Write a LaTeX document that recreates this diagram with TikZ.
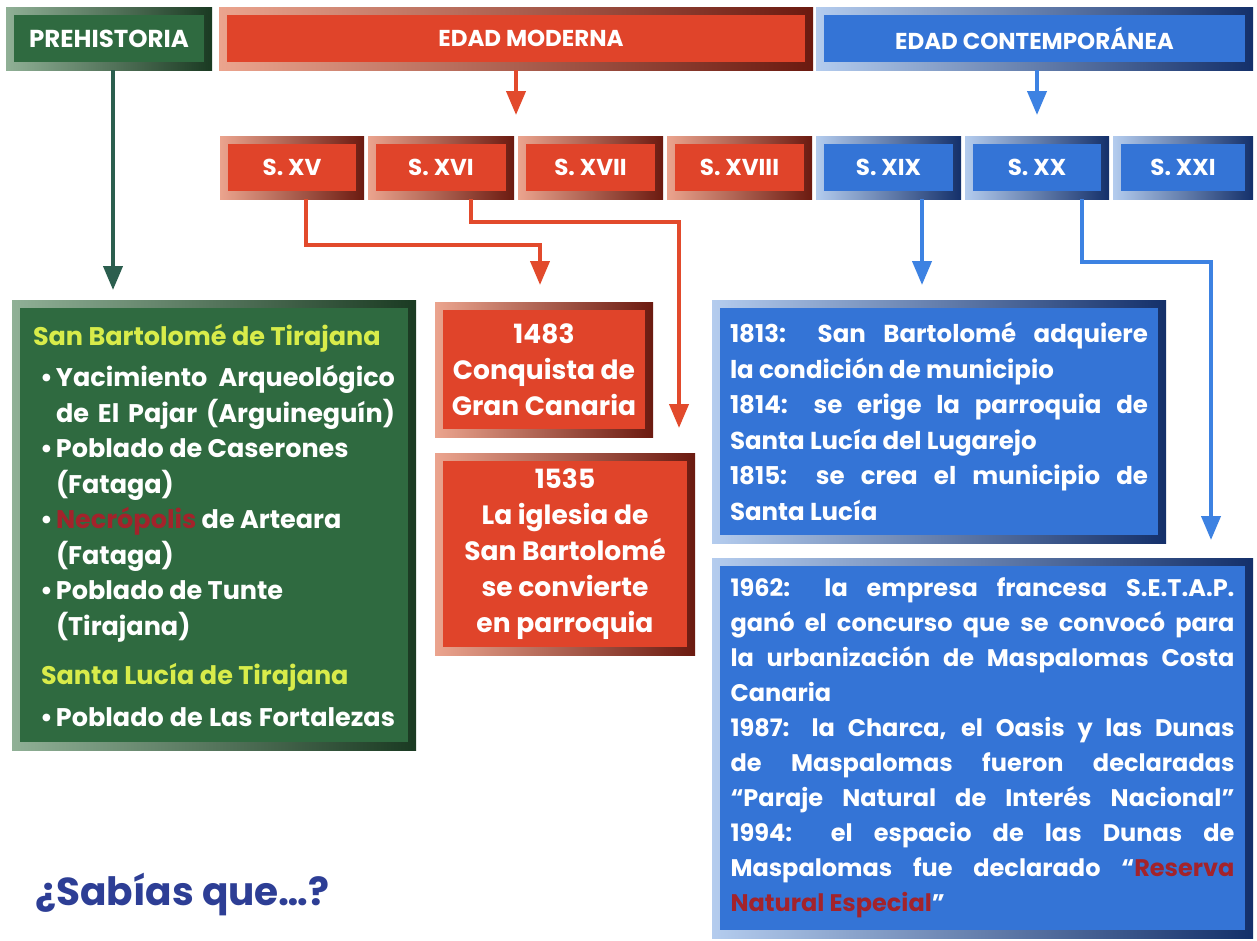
\documentclass[tikz,border=0pt]{standalone}
\usepackage{fontspec}
\setmainfont{Poppins}
\usetikzlibrary{arrows.meta}
\definecolor{redM}{HTML}{E0442A}
\definecolor{redL}{HTML}{EBA48E}
\definecolor{redD}{HTML}{6B1A10}
\definecolor{blueM}{HTML}{3474D6}
\definecolor{blueL}{HTML}{B4CCEE}
\definecolor{blueD}{HTML}{14306A}
\definecolor{grnM}{HTML}{2F6A40}
\definecolor{grnL}{HTML}{90B096}
\definecolor{grnD}{HTML}{1A3A22}
\definecolor{yel}{HTML}{D8EC4A}
\definecolor{necro}{HTML}{A3232B}
\definecolor{sab}{HTML}{2D3E95}
\definecolor{arrR}{HTML}{E24A2C}
\definecolor{arrB}{HTML}{3D82E2}
\definecolor{arrG}{HTML}{2B5E4E}
\newcommand\J[2]{{\spaceskip=0pt\xspaceskip=0pt\makebox[#1][s]{#2}}}
\newcommand\Lf[2]{{\spaceskip=0pt\xspaceskip=0pt\makebox[#1][l]{#2}}}
\newcommand\blt{\makebox[23pt][l]{\hspace{7pt}•}}
\begin{document}
\begin{tikzpicture}[x=1pt,y=-1pt,
  frame/.style={rectangle, anchor=north west, inner sep=0pt, outer sep=0pt, text=white,
    font=\bfseries\fontsize{23}{27}\selectfont, align=center},
  inner/.style={path picture={\fill[#1] ([xshift=8pt,yshift=-8pt]path picture bounding box.north west) rectangle ([xshift=-8pt,yshift=8pt]path picture bounding box.south east);}},
  redbox/.style={frame, left color=redL, right color=redD, inner=redM},
  bluebox/.style={frame, left color=blueL, right color=blueD, inner=blueM},
  grnbox/.style={frame, left color=grnL, right color=grnD, inner=grnM},
  arr/.style={line width=4pt, -{Triangle[width=19pt,length=24pt]}},
  rarr/.style={arr, draw=arrR},
  barr/.style={arr, draw=arrB},
  garr/.style={arr, draw=arrG}
]
\fill[white] (0,0) rectangle (1257,940);
\path[use as bounding box] (0,0) rectangle (1257,940);

% top row
\node[grnbox, minimum width=206pt, minimum height=63pt] (prehist) at (6,7) {\fontsize{24.5}{27}\selectfont PREHISTORIA};
\node[redbox, minimum width=594pt, minimum height=63pt] (moderna) at (219,7) {\hspace*{30pt}EDAD MODERNA};
\node[bluebox, minimum width=437pt, minimum height=63pt] (contemp) at (816,7) {EDAD CONTEMPORÁNEA};

% centuries
\node[redbox, minimum width=144pt, minimum height=63pt] (sxv) at (220,136) {S. XV};
\node[redbox, minimum width=146pt, minimum height=63pt] (sxvi) at (368,136) {S. XVI};
\node[redbox, minimum width=145pt, minimum height=63pt] (sxvii) at (518,136) {S. XVII};
\node[redbox, minimum width=145pt, minimum height=63pt] (sxviii) at (667,136) {S. XVIII};
\node[bluebox, minimum width=145pt, minimum height=63pt] (sxix) at (816,136) {S. XIX};
\node[bluebox, minimum width=144pt, minimum height=63pt] (sxx) at (965,136) {S. XX};
\node[bluebox, minimum width=140pt, minimum height=63pt] (sxxi) at (1113,136) {S. XXI};

% content boxes
\node[grnbox, font=\bfseries\fontsize{25.5}{35.5}\selectfont, align=left, text width=362pt,
      minimum width=404pt, minimum height=450pt] (green) at (12,300) {%
\textcolor{yel}{\Lf{362pt}{San Bartolomé de Tirajana}}\\[6pt]
\blt\J{339pt}{Yacimiento Arqueológico}\\
\hspace*{23pt}\J{339pt}{de El Pajar (Arguineguín)}\\
\blt\Lf{339pt}{Poblado de Caserones}\\
\hspace*{23pt}(Fataga)\\
\blt\Lf{339pt}{\textcolor{necro}{Necrópolis} de Arteara}\\
\hspace*{23pt}(Fataga)\\
\blt\Lf{339pt}{Poblado de Tunte}\\
\hspace*{23pt}(Tirajana)\\[14pt]
\hspace*{8pt}\textcolor{yel}{\Lf{354pt}{Santa Lucía de Tirajana}}\\[6pt]
\blt\J{339pt}{Poblado de Las Fortalezas}};

\node[redbox, font=\bfseries\fontsize{26.5}{36}\selectfont, minimum width=218pt, minimum height=135pt] (c1483) at (435,302) {1483\\Conquista de\\Gran Canaria};
\node[redbox, font=\bfseries\fontsize{26.5}{36}\selectfont, minimum width=260pt, minimum height=202pt] (c1535) at (435,453) {1535\\La iglesia de\\San Bartolomé\\se convierte\\en parroquia};

\node[bluebox, font=\bfseries\fontsize{24.5}{35.5}\selectfont, align=left, text width=418pt,
      minimum width=454pt, minimum height=243pt] (b1) at (712,300) {%
\J{418pt}{1813: San Bartolomé adquiere}\\
\Lf{418pt}{la condición de municipio}\\
\J{418pt}{1814: se erige la parroquia de}\\
\Lf{418pt}{Santa Lucía del Lugarejo}\\
\J{418pt}{1815: se crea el municipio de}\\
\Lf{418pt}{Santa Lucía}};

\node[bluebox, font=\bfseries\fontsize{24}{35}\selectfont, align=left, text width=504pt,
      minimum width=541pt, minimum height=380pt] (b2) at (712,558) {%
\J{504pt}{1962: la empresa francesa S.E.T.A.P.}\\
\J{504pt}{ganó el concurso que se convocó para}\\
\J{504pt}{la urbanización de Maspalomas Costa}\\
\Lf{504pt}{Canaria}\\
\J{504pt}{1987: la Charca, el Oasis y las Dunas}\\
\J{504pt}{de Maspalomas fueron declaradas}\\
\J{504pt}{“Paraje Natural de Interés Nacional”}\\
\J{504pt}{1994: el espacio de las Dunas de}\\
\J{504pt}{Maspalomas fue declarado “\textcolor{necro}{Reserva}}\\
\Lf{504pt}{\textcolor{necro}{Natural Especial}”}};

\node[anchor=base west, inner sep=0pt, text=sab, font=\bfseries\fontsize{39}{40}\selectfont] (sabias) at (35,905) {¿Sabías que…?};

% connectors
\draw[garr, shorten >=10pt] ([xshift=4pt]prehist.south) -- ([xshift=4pt]prehist.south |- green.north);
\draw[rarr, shorten >=21pt] (moderna.south) -- (moderna.south |- sxvi.north);
\draw[barr, shorten >=21pt] (contemp.south -| sxx.north) -- (sxx.north);
\draw[rarr, shorten >=17pt] ([xshift=14pt]sxv.south) -- ++(0,46) -| ([xshift=-4pt]c1483.north);
\draw[rarr, shorten >=25pt] ([xshift=30pt]sxvi.south) -- ++(0,23) -| ([xshift=114pt]c1535.north);
\draw[barr, shorten >=15pt] ([xshift=33.5pt]sxix.south) -- ([xshift=33.5pt]sxix.south |- b1.north);
\draw[barr, shorten >=18pt] ([xshift=45pt]sxx.south) -- ++(0,63) -| ([xshift=228.5pt]b2.north);
\end{tikzpicture}
\end{document}
